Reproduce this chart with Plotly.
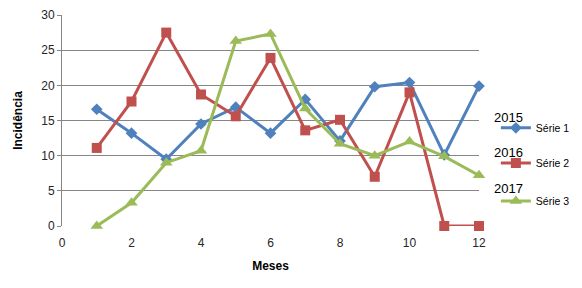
import plotly.graph_objects as go

meses = [1, 2, 3, 4, 5, 6, 7, 8, 9, 10, 11, 12]
serie1 = [16.6, 13.2, 9.5, 14.5, 16.9, 13.2, 18.0, 12.1, 19.8, 20.4, 10.1, 19.9]
serie2 = [11.1, 17.7, 27.5, 18.7, 15.6, 23.9, 13.6, 15.1, 7.0, 19.0, 0.0, 0.0]
serie3 = [0.0, 3.3, 9.0, 10.7, 26.3, 27.3, 16.7, 11.7, 10.0, 12.0, 9.9, 7.2]
nomes = ["Série 1", "Série 2", "Série 3"]
anos = ["2015", "2016", "2017"]
x_ticks = [0, 2, 4, 6, 8, 10, 12]
y_ticks = [0, 5, 10, 15, 20, 25, 30]

cores = ["#4F81BD", "#C0504D", "#9BBB59"]
simbolos = ["diamond", "square", "triangle-up"]
tamanhos = [9, 10, 11]
legendas = ["legend", "legend2", "legend3"]

fig = go.Figure()
for serie, nome, cor, simb, tam, leg in zip([serie1, serie2, serie3], nomes, cores, simbolos, tamanhos, legendas):
    fig.add_trace(go.Scatter(
        x=meses, y=serie, name=nome, mode="lines+markers",
        line=dict(color=cor, width=3),
        marker=dict(symbol=simb, size=tam, color=cor),
        legend=leg, cliponaxis=False,
    ))

font_fam = "Liberation Sans, Arial, sans-serif"
leg_common = dict(
    xref="container", yref="container",
    x=0.852, xanchor="left", yanchor="middle",
    bgcolor="rgba(0,0,0,0)", borderwidth=0,
    font=dict(family=font_fam, size=10.5, color="#000000"),
    itemwidth=30,
)
leg_ys = [0.556, 0.434, 0.302]
ano_ys = [0.512, 0.346, 0.180]
layout_legs = {}
for leg, yy in zip(legendas, leg_ys):
    layout_legs[leg] = dict(leg_common, y=yy)

fig.update_layout(
    width=582, height=288,
    margin=dict(l=62, r=103, t=15, b=62),
    paper_bgcolor="white", plot_bgcolor="white",
    font=dict(family=font_fam, size=12, color="#000000"),
    showlegend=True,
    **layout_legs,
)
for ano, yy in zip(anos, ano_ys):
    fig.add_annotation(text=ano, xref="paper", yref="paper", x=1.031, y=yy,
                       xanchor="left", yanchor="middle", showarrow=False,
                       font=dict(family=font_fam, size=13, color="#000000"))

fig.update_xaxes(
    range=[0, 12], tickvals=x_ticks, showgrid=False, zeroline=False,
    showline=False, ticks="", ticklabelstandoff=8, automargin=False,
    tickfont=dict(size=12, color="#262626"),
    title=dict(text="<b>Meses</b>", font=dict(size=12), standoff=12),
)
fig.update_yaxes(
    range=[0, 30], tickvals=y_ticks, showgrid=True, gridcolor="#868686", gridwidth=1,
    zeroline=False, showline=True, linecolor="#868686", linewidth=1,
    ticks="outside", ticklen=4, tickcolor="#868686", automargin=False,
    tickfont=dict(size=12, color="#262626"),
    title=dict(text="<b>Incidência</b>", font=dict(size=12), standoff=16),
)

fig.write_html("out.html", config={"displayModeBar": False},
               post_script="document.body.style.margin='0px';")
